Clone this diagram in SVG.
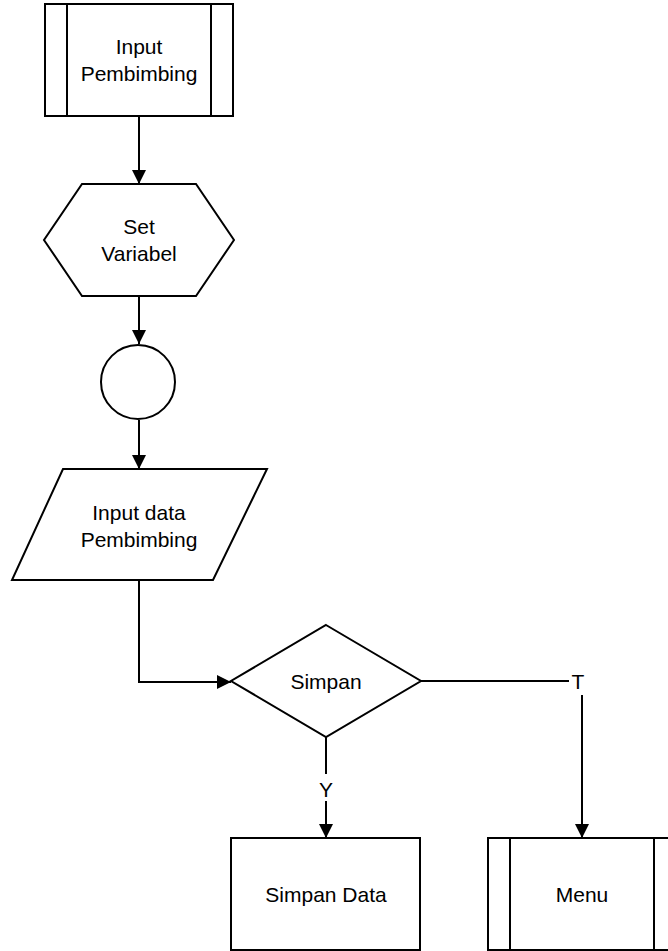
<svg xmlns="http://www.w3.org/2000/svg" width="668" height="951" viewBox="0 0 668 951">
<style>
.s{fill:#fff;stroke:#000;stroke-width:2}
.l{fill:none;stroke:#000;stroke-width:2}
.t{font-family:"Liberation Sans",Arial,sans-serif;font-size:21px;fill:#000;text-anchor:middle}
</style>
<defs>
<marker id="a" markerUnits="userSpaceOnUse" markerWidth="14" markerHeight="14" refX="14" refY="7" orient="auto">
<path d="M0,0 L14,7 L0,14 z" fill="#000"/>
</marker>
</defs>
<rect width="668" height="951" fill="#fff"/>
<g id="connectors">
<path class="l" d="M139,116 V184" marker-end="url(#a)"/>
<path class="l" d="M139,296 V344" marker-end="url(#a)"/>
<path class="l" d="M139,420 V469" marker-end="url(#a)"/>
<path class="l" d="M139,580 V682 H231" marker-end="url(#a)"/>
<path class="l" d="M326,737 V774"/>
<path class="l" d="M326,801 V838" marker-end="url(#a)"/>
<text class="t" x="326" y="797">Y</text>
<path class="l" d="M421,681 H569"/>
<text class="t" x="578" y="689">T</text>
<path class="l" d="M582,695 V838" marker-end="url(#a)"/>
</g>
<g id="input-pembimbing">
<rect class="s" x="45" y="4" width="188" height="112"/>
<path class="l" d="M67,4 V116 M211,4 V116"/>
<text class="t" x="139" y="54">Input</text>
<text class="t" x="139" y="81">Pembimbing</text>
</g>
<g id="set-variabel">
<polygon class="s" points="82,184 196,184 234,240 196,296 82,296 44,240"/>
<text class="t" x="139" y="234">Set</text>
<text class="t" x="139" y="261">Variabel</text>
</g>
<g id="connector-circle">
<circle class="s" cx="138" cy="382" r="37"/>
</g>
<g id="input-data">
<polygon class="s" points="63,469 267,469 213,580 12,580"/>
<text class="t" x="139" y="520">Input data</text>
<text class="t" x="139" y="547">Pembimbing</text>
</g>
<g id="simpan">
<polygon class="s" points="326,625 421,681 326,737 231,681"/>
<text class="t" x="326" y="689">Simpan</text>
</g>
<g id="simpan-data">
<rect class="s" x="231" y="838" width="189" height="112"/>
<text class="t" x="326" y="902">Simpan Data</text>
</g>
<g id="menu">
<rect class="s" x="488" y="838" width="188" height="112"/>
<path class="l" d="M510,838 V950 M654,838 V950"/>
<text class="t" x="582" y="902">Menu</text>
</g>
</svg>
